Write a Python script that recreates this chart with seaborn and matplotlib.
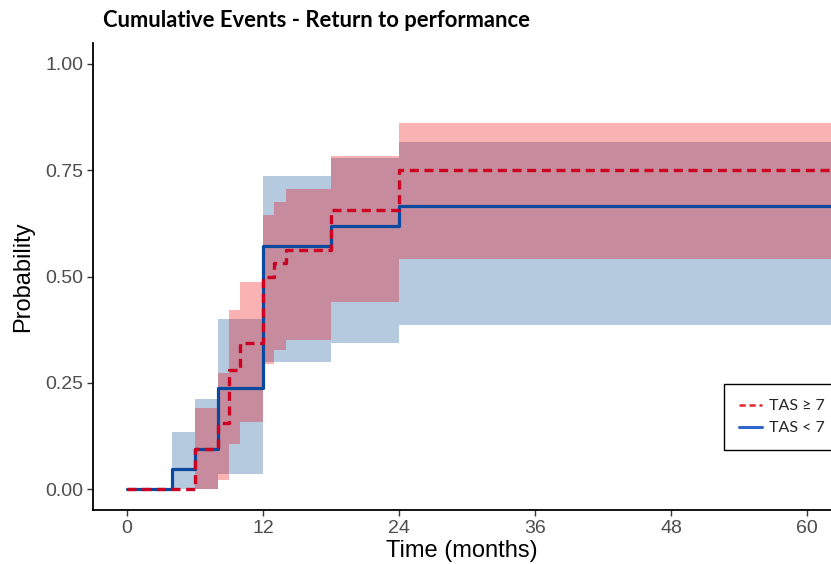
import numpy as np
import pandas as pd
import matplotlib
matplotlib.use("Agg")
import matplotlib.pyplot as plt
from matplotlib.lines import Line2D
from matplotlib.patches import Rectangle
import seaborn as sns

# ---- data ----
title = "Cumulative Events - Return to performance"
x_label = "Time (months)"
y_label = "Probability"
x_ticks = [0, 12, 24, 36, 48, 60]
y_ticks = [0.0, 0.25, 0.50, 0.75, 1.00]
y_tick_labels = ["0.00", "0.25", "0.50", "0.75", "1.00"]

# TAS < 7 (blue)
low_time = [0, 4, 6, 8, 12, 18, 24, 63]
low_est = [0.0, 0.048, 0.095, 0.238, 0.571, 0.619, 0.667, 0.667]
low_lower = [0.0, 0.0, 0.0, 0.035, 0.300, 0.343, 0.386, 0.386]
low_upper = [0.0, 0.135, 0.211, 0.400, 0.737, 0.778, 0.817, 0.817]

# TAS >= 7 (red)
high_time = [0, 6, 8, 9, 10, 12, 13, 14, 18, 24, 63]
high_est = [0.0, 0.094, 0.156, 0.281, 0.344, 0.500, 0.531, 0.5625, 0.656, 0.750, 0.750]
high_lower = [0.0, 0.0, 0.021, 0.107, 0.157, 0.293, 0.327, 0.350, 0.439, 0.541, 0.541]
high_upper = [0.0, 0.190, 0.272, 0.421, 0.488, 0.645, 0.676, 0.705, 0.784, 0.862, 0.862]

legend_labels = ["TAS \u2265 7", "TAS < 7"]

# ---- styling ----
sns.set_style("white")
plt.rcParams["font.family"] = ["Liberation Sans", "DejaVu Sans"]

blue_line = "#0A4A9E"
red_line = "#CC0020"
blue_fill = "#0C4E98"
red_fill = "#F00005"

W, H = 831, 564
fig = plt.figure(figsize=(W / 100, H / 100), dpi=100)
ax = fig.add_axes([93 / W, (H - 510.25) / H, (W - 93) / W, 467.5 / H])

df_low = pd.DataFrame({"time": low_time, "est": low_est})
df_high = pd.DataFrame({"time": high_time, "est": high_est})

# blue ribbon + line
ax.fill_between(low_time, low_lower, low_upper, step="post",
                color=blue_fill, alpha=0.30, linewidth=0)
sns.lineplot(data=df_low, x="time", y="est", ax=ax, color=blue_line,
             linewidth=2.3, drawstyle="steps-post", estimator=None, legend=False)

# red ribbon + line
ax.fill_between(high_time, high_lower, high_upper, step="post",
                color=red_fill, alpha=0.30, linewidth=0)
sns.lineplot(data=df_high, x="time", y="est", ax=ax, color=red_line,
             linewidth=2.4, drawstyle="steps-post", estimator=None, legend=False,
             linestyle=(0, (2.7, 1.7)))

ax.set_xlim(-3, 62.12)
ax.set_ylim(-0.05, 1.05)
ax.set_xticks(x_ticks)
ax.set_yticks(y_ticks)
ax.set_yticklabels(y_tick_labels)

for s in ["top", "right"]:
    ax.spines[s].set_visible(False)
for s in ["left", "bottom"]:
    ax.spines[s].set_color("black")
    ax.spines[s].set_linewidth(1.3)

ax.tick_params(axis="both", which="major", length=4, width=1.0, color="#333333",
               labelcolor="#4D4D4D", labelsize=14, pad=3, direction="out",
               left=True, bottom=True)

ax.set_xlabel(x_label, fontsize=17, color="black", labelpad=2)
ax.set_ylabel(y_label, fontsize=17, color="black", labelpad=8)

fig.text(103 / W, 1 - 20.5 / H, title, fontsize=15.8, fontweight="bold",
         family=["Lato", "DejaVu Sans"], va="center", ha="left", color="black")

# legend box (runs past the right edge, as in the reference)
box = Rectangle((723.5 / W, 1 - 449.5 / H), 140 / W, 66 / H,
                transform=fig.transFigure, facecolor="white", edgecolor="black",
                linewidth=1.0, clip_on=False, zorder=4.9)
ax.add_patch(box)

handles = [
    Line2D([0], [0], color="#E3262B", lw=1.8, linestyle=(0, (2.5, 1.5))),
    Line2D([0], [0], color="#3366CC", lw=2.2),
]
leg = ax.legend(handles, legend_labels, loc="upper left",
                bbox_to_anchor=(723 / W, 1 - 383 / H),
                bbox_transform=fig.transFigure,
                frameon=False,
                prop={"family": ["Lato", "DejaVu Sans"], "size": 11.5},
                handlelength=1.45, handletextpad=0.45, labelspacing=0.5,
                borderpad=1.0, borderaxespad=0)
leg.set_zorder(5)

fig.savefig("out.png", dpi=100)
